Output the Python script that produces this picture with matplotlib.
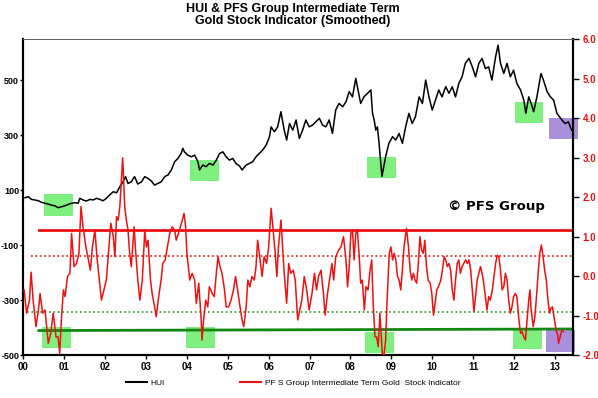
import matplotlib
matplotlib.use('Agg')
import matplotlib.pyplot as plt
from matplotlib.lines import Line2D
from matplotlib.patches import Rectangle

plt.rcParams['font.family'] = ['Liberation Sans', 'DejaVu Sans']

# time axis is years since 2000
hui_t = [0.04, 0.12, 0.20, 0.28, 0.37, 0.45, 0.53, 0.61, 0.69, 0.77, 0.85, 0.93, 1.02, 1.10, 1.18,
         1.26, 1.34, 1.38, 1.46, 1.54, 1.63, 1.71, 1.79, 1.87, 1.95, 2.03, 2.11, 2.20, 2.28, 2.36,
         2.44, 2.50, 2.56, 2.64, 2.72, 2.80, 2.89, 2.97, 3.05, 3.13, 3.21, 3.29, 3.37, 3.46, 3.54,
         3.62, 3.70, 3.78, 3.86, 3.90, 3.94, 4.02, 4.11, 4.19, 4.27, 4.31, 4.39, 4.47, 4.55, 4.64,
         4.72, 4.80, 4.88, 4.96, 5.04, 5.12, 5.20, 5.29, 5.35, 5.45, 5.53, 5.61, 5.69, 5.77, 5.85,
         5.94, 6.02, 6.06, 6.14, 6.22, 6.30, 6.38, 6.44, 6.51, 6.59, 6.67, 6.75, 6.83, 6.91, 6.99,
         7.07, 7.16, 7.24, 7.32, 7.40, 7.48, 7.56, 7.64, 7.72, 7.81, 7.89, 7.97, 8.05, 8.13, 8.20,
         8.25, 8.33, 8.42, 8.50, 8.54, 8.58, 8.62, 8.66, 8.70, 8.77, 8.86, 8.94, 9.03, 9.11, 9.19,
         9.27, 9.35, 9.43, 9.51, 9.59, 9.68, 9.76, 9.84, 9.92, 10.00, 10.08, 10.16, 10.24, 10.33,
         10.41, 10.49, 10.57, 10.65, 10.73, 10.81, 10.90, 10.98, 11.06, 11.14, 11.22, 11.30, 11.38,
         11.46, 11.55, 11.61, 11.67, 11.75, 11.83, 11.91, 11.99, 12.07, 12.16, 12.24, 12.29, 12.36,
         12.42, 12.48, 12.56, 12.66, 12.72, 12.81, 12.89, 12.97, 13.05, 13.17, 13.25, 13.33, 13.41]
hui = [72, 76, 66, 64, 61, 55, 52, 49, 45, 43, 36, 39, 43, 48, 52,
       54, 52, 70, 64, 60, 66, 64, 70, 66, 61, 70, 82, 94, 90, 112,
       130, 149, 124, 130, 149, 122, 130, 149, 142, 133, 118, 124, 130, 149, 155,
       173, 203, 215, 233, 252, 239, 227, 221, 227, 203, 173, 191, 185, 197, 191,
       209, 233, 239, 221, 209, 215, 197, 187, 173, 191, 197, 203, 221, 233, 245,
       264, 294, 330, 312, 330, 385, 318, 282, 342, 318, 355, 288, 318, 355, 330,
       336, 349, 361, 336, 330, 355, 306, 391, 415, 403, 421, 458, 439, 506, 452,
       415, 439, 452, 464, 379, 355, 318, 330, 270, 150, 221, 270, 294, 282, 306,
       270, 330, 379, 342, 367, 439, 415, 500, 439, 391, 427, 464, 439, 476,
       452, 476, 439, 488, 512, 561, 579, 548, 512, 561, 579, 542, 548,
       500, 585, 627, 561, 524, 561, 512, 536, 488, 464, 427, 379, 439,
       415, 385, 439, 524, 500, 458, 439, 427, 379, 355, 342, 348, 318]

ind_t = [0.02, 0.08, 0.15, 0.19, 0.24, 0.31, 0.37, 0.41, 0.47, 0.53, 0.57, 0.61, 0.67, 0.73, 0.80,
         0.85, 0.89, 0.93, 0.98, 1.02, 1.08, 1.14, 1.18, 1.24, 1.30, 1.36, 1.41, 1.46, 1.53, 1.59,
         1.64, 1.69, 1.75, 1.80, 1.85, 1.91, 1.97, 2.03, 2.10, 2.14, 2.20, 2.24, 2.28, 2.32, 2.36,
         2.43, 2.48, 2.52, 2.56, 2.60, 2.64, 2.71, 2.75, 2.80, 2.85, 2.91, 2.97, 3.01, 3.05, 3.11,
         3.15, 3.21, 3.25, 3.32, 3.37, 3.41, 3.47, 3.54, 3.58, 3.64, 3.70, 3.74, 3.82, 3.89, 3.93,
         3.97, 4.00, 4.07, 4.13, 4.19, 4.23, 4.29, 4.35, 4.37, 4.41, 4.46, 4.51, 4.55, 4.62, 4.67,
         4.72, 4.76, 4.81, 4.86, 4.92, 4.96, 5.02, 5.08, 5.14, 5.19, 5.24, 5.30, 5.35, 5.39, 5.45,
         5.49, 5.54, 5.59, 5.65, 5.69, 5.73, 5.79, 5.84, 5.89, 5.95, 6.00, 6.06, 6.11, 6.16, 6.20,
         6.24, 6.30, 6.34, 6.38, 6.44, 6.49, 6.54, 6.60, 6.65, 6.71, 6.81, 6.87, 6.93, 6.99, 7.06,
         7.12, 7.17, 7.22, 7.28, 7.34, 7.38, 7.44, 7.50, 7.55, 7.59, 7.64, 7.71, 7.77, 7.83, 7.89,
         7.93, 7.97, 8.01, 8.05, 8.09, 8.13, 8.17, 8.21, 8.25, 8.29, 8.34, 8.38, 8.43, 8.48, 8.52,
         8.56, 8.60, 8.64, 8.68, 8.72, 8.75, 8.78, 8.82, 8.86, 8.90, 8.95, 8.99, 9.03, 9.07, 9.11,
         9.15, 9.19, 9.23, 9.27, 9.31, 9.37, 9.42, 9.46, 9.50, 9.54, 9.58, 9.62, 9.66, 9.70, 9.74,
         9.78, 9.82, 9.86, 9.90, 9.95, 9.99, 10.03, 10.07, 10.11, 10.15, 10.21, 10.25, 10.29, 10.33,
         10.37, 10.41, 10.45, 10.49, 10.53, 10.57, 10.61, 10.65, 10.69, 10.73, 10.77, 10.82, 10.86,
         10.90, 10.94, 10.98, 11.02, 11.06, 11.10, 11.14, 11.18, 11.22, 11.26, 11.30, 11.34, 11.38,
         11.42, 11.47, 11.51, 11.55, 11.59, 11.63, 11.67, 11.71, 11.75, 11.79, 11.83, 11.87, 11.91,
         11.95, 11.99, 12.03, 12.07, 12.12, 12.16, 12.20, 12.24, 12.28, 12.32, 12.36, 12.39, 12.42,
         12.47, 12.51, 12.55, 12.59, 12.63, 12.67, 12.71, 12.75, 12.79, 12.83, 12.87, 12.90, 12.94,
         12.99, 13.03, 13.07, 13.09, 13.13, 13.17, 13.21]
ind = [-0.35, -0.94, -0.61, 0.10, -0.61, -1.28, -0.86, -0.44, -0.94, -0.86, -1.28, -1.70, -1.45, -0.94, -1.54,
       -1.54, -1.96, -1.11, -0.35, -0.52, -0.01, 0.07, 1.08, 0.24, 0.32, 0.58, 1.76, 1.25, 0.74, 0.41,
       0.15, 0.74, 1.17, 0.49, -0.01, -0.61, -0.35, -0.10, 0.83, 1.34, 1.00, 0.49, 1.51, 1.42, 1.76,
       3.00, 1.76, 1.42, 1.17, 0.58, 0.24, 1.25, 0.58, -0.10, -0.61, -0.10, 1.17, 0.74, 0.91, -0.10,
       -0.44, -0.78, -1.03, -0.44, -0.10, 0.32, 0.41, 0.83, 1.08, 1.25, 1.17, 0.91, 1.17, 1.42, 1.59,
       1.25, 0.58, -0.10, 0.07, -0.10, -0.69, -0.18, -1.11, -1.62, -1.11, -0.61, -0.78, -0.27, -0.44, -0.52,
       0.07, 0.49, 0.24, 0.07, -0.35, -0.78, -0.78, -0.61, -0.35, -0.01, -0.35, -0.78, -1.11, -1.28, -0.78,
       -0.10, -0.27, -0.01, -0.10, 0.24, 0.91, 0.41, -0.01, 0.49, 0.32, 0.74, 1.72, 1.17, 0.58, -0.01,
       0.74, 1.42, 0.74, 0.07, -0.69, 0.32, 0.07, 0.15, -0.10, -1.11, -0.61, -0.01, -0.35, -0.86, -0.44,
       0.07, -0.35, -0.01, 0.15, -0.44, -0.99, -0.44, -0.01, 0.32, -0.10, 0.49, 0.66, 0.74, 1.00, 0.41,
       -0.27, 0.24, 1.08, 1.17, 0.41, 1.08, 1.17, 0.58, -0.18, -0.10, -0.86, -0.27, -0.35, 0.15, 0.41,
       -0.78, -1.54, -1.54, -1.79, -0.94, -1.45, -1.96, -2.00, -1.62, -0.52, 0.58, 0.74, 0.41, 0.58, 0.41,
       -0.01, -0.10, -0.35, 0.15, 0.74, 1.21, 0.74, 0.15, -0.10, 0.07, -0.10, -0.18, 0.32, 1.00, 0.66,
       0.58, 0.91, 0.24, -0.10, -0.18, -0.44, -0.99, -0.69, -0.35, -0.27, -0.10, 0.15, 0.49, 0.41,
       0.24, 0.32, 0.15, -0.35, -0.61, -0.10, 0.32, 0.41, 0.07, 0.24, 0.32, 0.41, 0.32,
       0.41, 0.15, -0.35, -0.90, -0.52, -0.10, 0.07, 0.24, 0.07, -0.18, -0.52, -0.86, -0.52,
       -0.61, -0.35, -0.01, 0.32, 0.53, 0.49, 0.15, -0.35, -0.27, 0.07, -0.10, -0.61, -0.94,
       -0.78, -0.52, -0.44, -0.52, -1.11, -1.45, -1.41, -1.54, -1.62, -1.11, -0.61, -0.35, -0.86,
       -1.28, -1.03, -0.52, 0.07, 0.58, 0.79, 0.49, 0.15, -0.10, -0.61, -0.94, -0.82, -0.78,
       -1.11, -1.37, -1.49, -1.70, -1.54, -1.37, -1.41]

# signal levels on the indicator scale: (start year, value at start, value at end, colour, style)
levels = [(0.38, 1.17, 1.17, '#ee1111', '-'),
          (0.19, 0.50, 0.50, '#ee1111', ':'),
          (0.09, -0.92, -0.92, '#229922', ':'),
          (0.38, -1.38, -1.34, '#118811', '-')]

# highlight boxes: (x0, x1, y0, y1)
hui_boxes = [(0.51, 1.22, 7, 84), (4.07, 4.78, 134, 209), (8.40, 9.11, 143, 219),
             (12.02, 12.72, 343, 419), (12.85, 13.56, 284, 361)]
ind_boxes = [(0.46, 1.16, -1.81, -1.28), (3.97, 4.69, -1.81, -1.28), (8.35, 9.07, -1.96, -1.42),
             (11.97, 12.68, -1.86, -1.32), (12.79, 13.50, -1.92, -1.37)]
box_colors = ['#7ff07f', '#7ff07f', '#7ff07f', '#7ff07f', '#a98fdc']

years = list(range(14))
x_end = 13.44

fig = plt.figure(figsize=(5.98, 3.98), dpi=100)
ax = fig.add_axes([0.039, 0.108, 0.919, 0.793])
ax2 = ax.twinx()

for (x0, x1, y0, y1), col in zip(hui_boxes, box_colors):
    ax.add_patch(Rectangle((x0, y0), x1 - x0, y1 - y0, facecolor=col, edgecolor='none',
                           zorder=1, clip_on=False))
ax.plot(hui_t, hui, color='black', lw=1.1, zorder=3)

for (x0, x1, y0, y1), col in zip(ind_boxes, box_colors):
    ax2.add_patch(Rectangle((x0, y0), x1 - x0, y1 - y0, facecolor=col, edgecolor='none',
                            zorder=1, clip_on=False))
for x0, v0, v1, col, ls in levels:
    ax2.plot([x0, x_end], [v0, v1], color=col, ls=ls, lw=2.0 if ls == '-' else 1.2, zorder=2)
ax2.plot(ind_t, ind, color='#ee1111', lw=1.1, zorder=3)

ax.set_xlim(0, x_end)
ax.set_ylim(-500, 648)
ax2.set_ylim(-2, 6)

ax.set_xticks(years)
ax.set_xticklabels([f'{y:02d}' for y in years], fontsize=7, fontweight='bold')
ax.set_yticks([-500, -300, -100, 100, 300, 500])
ax.set_yticklabels(['-500', '-300', '-100', '100', '300', '500'], fontsize=6.5, fontweight='bold')
ax.tick_params(axis='x', direction='out', length=3, width=1, pad=2)
ax.tick_params(axis='y', direction='out', length=2, width=1, pad=1)

ax2.set_yticks(range(-2, 7))
ax2.set_yticklabels([f'{v:.1f}' for v in range(-2, 7)], fontsize=7, fontweight='bold', color='#ee1111')
ax2.tick_params(axis='y', direction='out', length=4, width=1, pad=3)

for a in (ax, ax2):
    a.spines['top'].set_color('#666666')
    a.spines['top'].set_linewidth(0.7)
    a.spines['left'].set_linewidth(1.5)
    a.spines['bottom'].set_linewidth(1.5)
    a.spines['right'].set_linewidth(1.5)

fig.text(0.49, 0.993, 'HUI & PFS Group Intermediate Term\nGold Stock Indicator (Smoothed)',
         ha='center', va='top', fontsize=9, fontweight='bold', linespacing=1.0)
fig.text(0.83, 0.482, '\u00a9 PFS Group', ha='center', va='center', fontsize=9.5,
         fontweight='bold', family=['DejaVu Sans'])

handles = [Line2D([], [], color='black', lw=1.5), Line2D([], [], color='#ee1111', lw=1.5)]
fig.legend(handles, ['HUI', 'PF S Group Intermediate Term Gold  Stock Indicator'],
           loc='center', bbox_to_anchor=(0.49, 0.038), ncol=2, frameon=False,
           fontsize=6, handlelength=2.6, handletextpad=0.4, columnspacing=9)

fig.savefig('out.png', dpi=100)
